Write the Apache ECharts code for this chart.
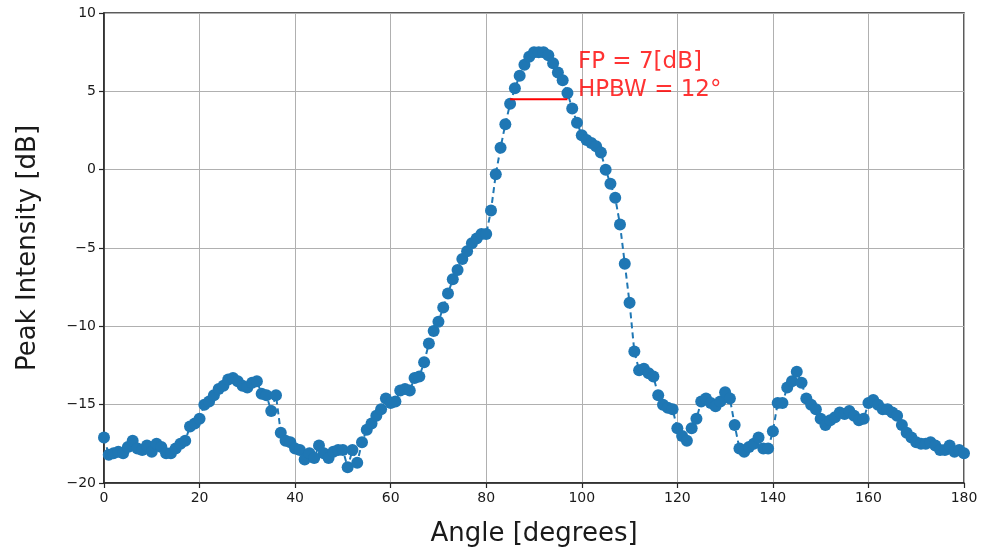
<!DOCTYPE html>
<html>
<head>
<meta charset="utf-8">
<script src="https://cdn.jsdelivr.net/npm/echarts@6/dist/echarts.min.js"></script>
<style>
html,body{margin:0;padding:0;background:#fff;}
#chart{width:987px;height:553px;}
</style>
</head>
<body>
<div id="chart"></div>
<script>
// Angles (degrees), 1-degree steps from 0 to 180
var angles = [];
for (var a = 0; a <= 180; a++) angles.push(a);

// Peak intensity [dB]
var intensity = [
  -17.1,-18.2,-18.1,-18.0,-18.1,-17.7,-17.3,-17.8,-17.9,-17.6,
  -18.0,-17.5,-17.7,-18.1,-18.1,-17.8,-17.5,-17.3,-16.4,-16.2,
  -15.9,-15.0,-14.8,-14.4,-14.0,-13.8,-13.4,-13.3,-13.5,-13.8,
  -13.9,-13.6,-13.5,-14.3,-14.4,-15.4,-14.4,-16.8,-17.3,-17.4,
  -17.8,-17.9,-18.5,-18.1,-18.4,-17.6,-18.1,-18.4,-18.0,-17.9,
  -17.9,-19.0,-17.9,-18.7,-17.4,-16.6,-16.2,-15.7,-15.3,-14.6,
  -14.9,-14.8,-14.1,-14.0,-14.1,-13.3,-13.2,-12.3,-11.1,-10.3,
  -9.7,-8.8,-7.9,-7.0,-6.4,-5.7,-5.2,-4.7,-4.4,-4.1,
  -4.1,-2.6,-0.3,1.4,2.9,4.2,5.2,6.0,6.7,7.2,
  7.5,7.5,7.5,7.3,6.8,6.2,5.7,4.9,3.9,3.0,
  2.2,1.9,1.7,1.5,1.1,0.0,-0.9,-1.8,-3.5,-6.0,
  -8.5,-11.6,-12.8,-12.7,-13.0,-13.2,-14.4,-15.0,-15.2,-15.3,
  -16.5,-17.0,-17.3,-16.5,-15.9,-14.8,-14.6,-14.9,-15.1,-14.8,
  -14.2,-14.6,-16.3,-17.8,-18.0,-17.7,-17.5,-17.1,-17.8,-17.8,
  -16.7,-14.9,-14.9,-13.9,-13.5,-12.9,-13.6,-14.6,-15.0,-15.3,
  -15.9,-16.3,-16.0,-15.8,-15.5,-15.6,-15.4,-15.7,-16.0,-15.9,
  -14.9,-14.7,-15.0,-15.3,-15.3,-15.5,-15.7,-16.3,-16.8,-17.1,
  -17.4,-17.5,-17.5,-17.4,-17.6,-17.9,-17.9,-17.6,-18.0,-17.9,
  -18.1
];

// HPBW marker and annotation values
var hpbwStart = 85;
var hpbwEnd = 97;
var hpbwLevel = 4.5;
var fpValue = 7;
var hpbwValue = 12;
var annotX = 99.2;
var annotY1 = 6.85;
var annotY2 = 5.1;

var xTicks = [0, 20, 40, 60, 80, 100, 120, 140, 160, 180];
var yTicks = [-20, -15, -10, -5, 0, 5, 10];

var seriesData = angles.map(function (x, i) { return [x, intensity[i]]; });

function fmt(v) { return String(v).replace('-', '\u2212'); }

var chart = echarts.init(document.getElementById('chart'), null, {renderer: 'canvas'});
chart.setOption({
  animation: false,
  backgroundColor: '#fff',
  grid: {left: 104, right: 23, top: 13, bottom: 70, show: true, borderColor: '#262626', borderWidth: 1.5, backgroundColor: 'transparent'},
  xAxis: {
    type: 'value', min: 0, max: 180, interval: 20,
    name: 'Angle [degrees]', nameLocation: 'middle', nameGap: 38,
    nameTextStyle: {fontFamily: 'DejaVu Sans', fontSize: 26, color: '#1a1a1a'},
    axisLine: {show: true, onZero: false, lineStyle: {color: '#262626', width: 1.5}},
    axisTick: {show: true, inside: false, length: 5, lineStyle: {color: '#262626', width: 1.2}},
    axisLabel: {fontFamily: 'DejaVu Sans', fontSize: 14, color: '#1a1a1a', margin: 8, formatter: fmt},
    splitLine: {show: true, lineStyle: {color: '#b0b0b0', width: 1}}
  },
  yAxis: {
    type: 'value', min: -20, max: 10, interval: 5,
    name: 'Peak Intensity [dB]', nameLocation: 'middle', nameGap: 63,
    nameTextStyle: {fontFamily: 'DejaVu Sans', fontSize: 26, color: '#1a1a1a'},
    axisLine: {show: true, onZero: false, lineStyle: {color: '#262626', width: 1.5}},
    axisTick: {show: true, inside: false, length: 5, lineStyle: {color: '#262626', width: 1.2}},
    axisLabel: {fontFamily: 'DejaVu Sans', fontSize: 14, color: '#1a1a1a', margin: 8, formatter: fmt},
    splitLine: {show: true, lineStyle: {color: '#b0b0b0', width: 1}}
  },
  series: [
    {
      type: 'line',
      data: seriesData,
      symbol: 'circle',
      symbolSize: 12,
      showSymbol: true,
      itemStyle: {color: '#1f77b4', borderWidth: 0},
      lineStyle: {color: '#1f77b4', width: 2, type: [6, 4]},
      z: 2
    },
    {
      type: 'line',
      data: [[hpbwStart, hpbwLevel], [hpbwEnd, hpbwLevel]],
      symbol: 'none',
      lineStyle: {color: '#ff0000', width: 2},
      z: 3
    },
    {
      type: 'scatter',
      symbolSize: 0,
      data: [
        {value: [annotX, annotY1], label: {formatter: 'FP = ' + fpValue + '[dB]'}},
        {value: [annotX, annotY2], label: {formatter: 'HPBW = ' + hpbwValue + '\u00b0'}}
      ],
      label: {show: true, position: 'right', distance: 0, color: '#ff0000', fontFamily: 'DejaVu Sans', fontSize: 23},
      z: 4
    }
  ]
});
</script>
</body>
</html>
